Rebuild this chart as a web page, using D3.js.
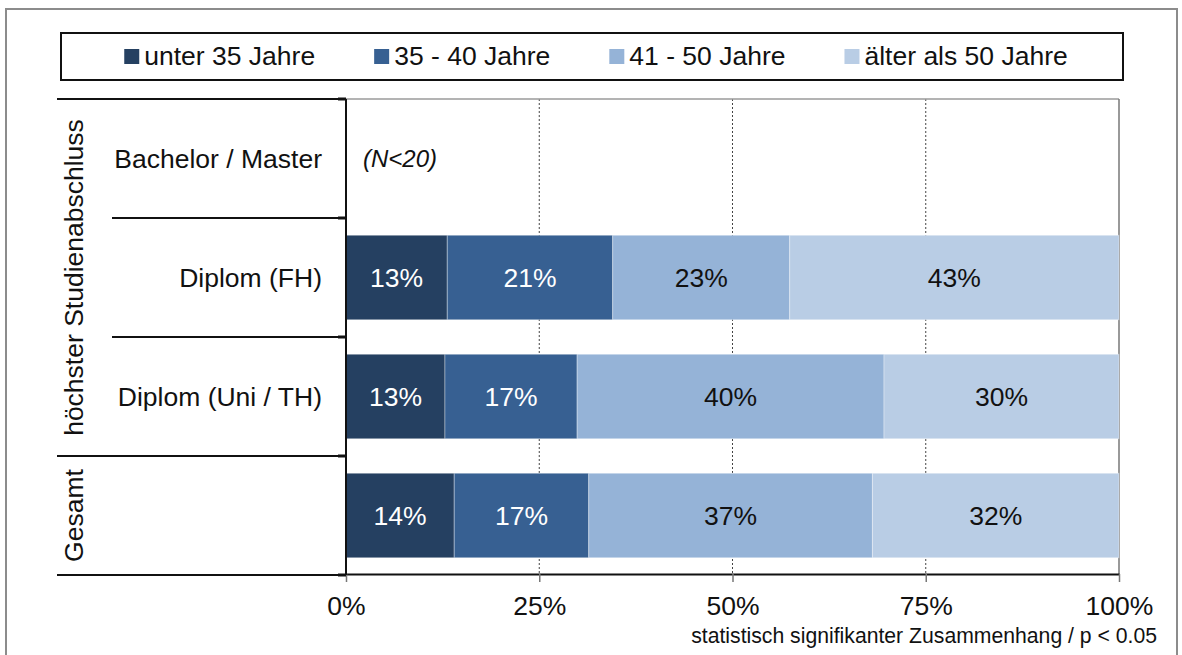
<!DOCTYPE html>
<html>
<head>
<meta charset="utf-8">
<script src="https://cdn.jsdelivr.net/npm/d3@7"></script>
<style>
  body { margin: 0; background: #fff; }
  text { font-family: "Liberation Sans", Arial, sans-serif; }
</style>
</head>
<body>
<svg id="chart"></svg>
<script>
// Daten
const series = ["unter 35 Jahre", "35 - 40 Jahre", "41 - 50 Jahre", "älter als 50 Jahre"];
const rows = ["Bachelor / Master", "Diplom (FH)", "Diplom (Uni / TH)", "Gesamt"];
const rowLabels = ["Bachelor / Master", "Diplom (FH)", "Diplom (Uni / TH)", ""];
const groups = [
    { name: "höchster Studienabschluss", from: 0, to: 2 },
    { name: "Gesamt", from: 3, to: 3 }
];
// Anteile pro Zeile (null = N<20)
const valuesUnter35 = [null, 13.1, 12.8, 14.0];
const values35to40  = [null, 21.4, 17.1, 17.4];
const values41to50  = [null, 22.9, 39.7, 36.7];
const valuesUeber50 = [null, 42.6, 30.4, 31.9];
const xTicks = [0, 25, 50, 75, 100];
const smallN = "(N<20)";
const note = "statistisch signifikanter Zusammenhang / p < 0.05";

const colors = ["#254061", "#376092", "#95B3D7", "#B9CDE5"];
const labelColors = ["#fff", "#fff", "#111", "#111"];
const fs = 26.5;

const W = 1182, H = 655;
const svg = d3.select("#chart").attr("width", W).attr("height", H);

// Rahmen außen
svg.append("rect")
    .attr("x", 6).attr("y", 9).attr("width", 1171).attr("height", 700)
    .attr("fill", "none").attr("stroke", "#8c8c8c").attr("stroke-width", 2);

// Skalen
const x = d3.scaleLinear().domain([0, 100]).range([346, 1119]);
const y = d3.scaleBand().domain(rows).range([99, 575])
    .paddingInner(0.29).paddingOuter(0.145);
const step = y.step();
const top0 = 99, bottom0 = 575;

// Gitterlinien
const grid = svg.append("g");
grid.selectAll("line")
    .data(xTicks.filter(t => t > 0 && t < 100))
    .join("line")
    .attr("x1", d => x(d)).attr("x2", d => x(d))
    .attr("y1", top0).attr("y2", bottom0)
    .attr("stroke", "#444").attr("stroke-width", 1)
    .attr("stroke-dasharray", "2,2");

// Plot-Rahmen oben und rechts (grau)
svg.append("line").attr("x1", x(0)).attr("x2", x(100)).attr("y1", top0).attr("y2", top0)
    .attr("stroke", "#9a9a9a").attr("stroke-width", 1.5);
svg.append("line").attr("x1", x(100)).attr("x2", x(100)).attr("y1", top0).attr("y2", bottom0)
    .attr("stroke", "#777").attr("stroke-width", 1.5);

// Balken gestapelt
const table = rows.map((r, i) => ({
    row: r,
    vals: [valuesUnter35[i], values35to40[i], values41to50[i], valuesUeber50[i]]
}));
const stackData = table.filter(d => d.vals[0] !== null).map(d => {
    let acc = 0;
    return d.vals.map((v, k) => {
        const seg = { row: d.row, k: k, x0: acc, x1: acc + v, v: v };
        acc += v;
        return seg;
    });
}).flat();

const bars = svg.append("g");
bars.selectAll("rect")
    .data(stackData)
    .join("rect")
    .attr("x", d => x(d.x0))
    .attr("y", d => y(d.row))
    .attr("width", d => x(d.x1) - x(d.x0))
    .attr("height", y.bandwidth())
    .attr("fill", d => colors[d.k])
    .attr("stroke", "rgba(255,255,255,0.35)")
    .attr("stroke-width", 1);

bars.selectAll("text")
    .data(stackData)
    .join("text")
    .attr("x", d => (x(d.x0) + x(d.x1)) / 2)
    .attr("y", d => y(d.row) + y.bandwidth() / 2)
    .attr("dy", "0.35em")
    .attr("text-anchor", "middle")
    .attr("font-size", fs)
    .attr("fill", d => labelColors[d.k])
    .text(d => Math.round(d.v) + "%");

// N<20 Hinweis
table.filter(d => d.vals[0] === null).forEach(d => {
    svg.append("text")
        .attr("x", x(0) + 17)
        .attr("y", y(d.row) + y.bandwidth() / 2)
        .attr("dy", "0.35em")
        .attr("font-size", 24)
        .attr("font-style", "italic")
        .attr("fill", "#111")
        .text(smallN);
});

// X-Achse
const xAxis = d3.axisBottom(x)
    .tickValues(xTicks)
    .tickFormat(d => d + "%")
    .tickSize(8)
    .tickSizeOuter(0);
const gx = svg.append("g").attr("transform", `translate(0,${bottom0 - 1})`).call(xAxis);
gx.select(".domain").attr("stroke", "#111").attr("stroke-width", 2);
gx.selectAll(".tick line").attr("stroke", "#777").attr("stroke-width", 1.5);
gx.selectAll(".tick text")
    .attr("font-size", fs).attr("fill", "#111")
    .attr("y", 22).attr("dy", "0.71em")
    .style("font-family", "'Liberation Sans', Arial, sans-serif");

// Linke Kategorien-Struktur
const left = svg.append("g");
const lineX0 = 57, innerX0 = 112;
// Trennlinien
const boundaries = d3.range(rows.length + 1).map(i => {
    const isGroup = i === 0 || i === rows.length || groups.some(g => g.from === i);
    return { yy: top0 + i * step, isGroup: isGroup };
});
left.selectAll("line.sep")
    .data(boundaries)
    .join("line")
    .attr("class", "sep")
    .attr("x1", d => d.isGroup ? lineX0 : innerX0)
    .attr("x2", x(0))
    .attr("y1", d => d.yy).attr("y2", d => d.yy)
    .attr("stroke", "#111").attr("stroke-width", 2);
// kleine Ticks an der Achse
left.selectAll("line.tk")
    .data(boundaries)
    .join("line")
    .attr("class", "tk")
    .attr("x1", x(0) - 8).attr("x2", x(0))
    .attr("y1", d => d.yy).attr("y2", d => d.yy)
    .attr("stroke", "#111").attr("stroke-width", 3);
// vertikale Achse
left.append("line")
    .attr("x1", x(0)).attr("x2", x(0))
    .attr("y1", top0).attr("y2", bottom0)
    .attr("stroke", "#111").attr("stroke-width", 2);

// Zeilenbeschriftungen
left.selectAll("text.row")
    .data(rows)
    .join("text")
    .attr("class", "row")
    .attr("x", 322)
    .attr("y", d => y(d) + y.bandwidth() / 2)
    .attr("dy", "0.35em")
    .attr("text-anchor", "end")
    .attr("font-size", fs)
    .attr("fill", "#111")
    .text((d, i) => rowLabels[i]);

// Gruppenbeschriftungen (gedreht)
left.selectAll("text.grp")
    .data(groups)
    .join("text")
    .attr("class", "grp")
    .attr("transform", g => {
        const cy = (top0 + g.from * step + top0 + (g.to + 1) * step) / 2;
        return `translate(83,${cy}) rotate(-90)`;
    })
    .attr("text-anchor", "middle")
    .attr("font-size", fs)
    .attr("fill", "#111")
    .text(g => g.name);

// Legende
const legBox = { x: 61, y: 33, w: 1062, h: 47 };
svg.append("rect")
    .attr("x", legBox.x).attr("y", legBox.y)
    .attr("width", legBox.w).attr("height", legBox.h)
    .attr("fill", "#fff").attr("stroke", "#111").attr("stroke-width", 2);

const legend = svg.append("g");
const items = legend.selectAll("g")
    .data(series)
    .join("g");
items.append("rect")
    .attr("width", 15).attr("height", 15)
    .attr("y", -16)
    .attr("fill", (d, i) => colors[i]);
items.append("text")
    .attr("x", 20)
    .attr("font-size", fs)
    .attr("fill", "#111")
    .text(d => d);

// Positionen nach Textbreite
const gap = 59;
const widths = [];
items.each(function() {
    widths.push(20 + d3.select(this).select("text").node().getComputedTextLength());
});
const total = d3.sum(widths) + gap * (series.length - 1);
let cx = legBox.x + (legBox.w - total) / 2 + 4;
items.attr("transform", (d, i) => {
    const t = `translate(${cx},65)`;
    cx += widths[i] + gap;
    return t;
});

// Fußnote
svg.append("text")
    .attr("x", 1157).attr("y", 643)
    .attr("text-anchor", "end")
    .attr("font-size", 21.2)
    .attr("fill", "#111")
    .text(note);
</script>
</body>
</html>
